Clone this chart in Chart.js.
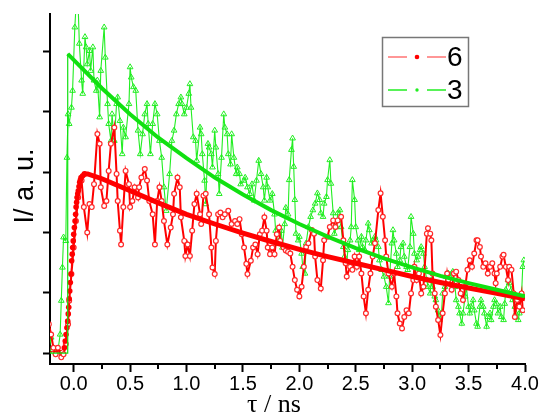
<!DOCTYPE html>
<html>
<head>
<meta charset="utf-8">
<script src="https://cdn.jsdelivr.net/npm/chart.js@4.4.1/dist/chart.umd.min.js"></script>
<style>
  html, body { margin: 0; padding: 0; background: #fff; }
  #wrap { width: 541px; height: 415px; }
</style>
</head>
<body>
<div id="wrap"><canvas id="decayChart" width="541" height="415"></canvas></div>
<script>
// sample 6 (red circles), time in ns / intensity in a.u.
const redT = [-0.22,-0.20,-0.18,-0.16,-0.14,-0.11,-0.09,-0.07,-0.05,-0.04,-0.02,0.00,0.02,0.04,0.07,0.09,0.12,0.14,0.16,0.18,
  0.21,0.23,0.24,0.27,0.29,0.31,0.33,0.36,0.38,0.39,0.41,0.42,0.44,0.46,0.49,0.50,0.52,0.54,0.57,0.58,
  0.60,0.63,0.65,0.67,0.70,0.72,0.74,0.76,0.78,0.80,0.83,0.86,0.88,0.89,0.92,0.94,0.95,0.98,0.99,1.01,
  1.03,1.05,1.07,1.09,1.12,1.13,1.15,1.17,1.20,1.22,1.23,1.25,1.26,1.28,1.30,1.32,1.34,1.37,1.40,1.43,
  1.45,1.47,1.49,1.51,1.53,1.54,1.57,1.59,1.61,1.63,1.65,1.67,1.69,1.71,1.72,1.74,1.76,1.78,1.80,1.82,
  1.83,1.86,1.88,1.90,1.92,1.94,1.96,1.98,2.00,2.02,2.04,2.06,2.08,2.11,2.13,2.14,2.16,2.19,2.21,2.22,
  2.25,2.27,2.30,2.32,2.34,2.37,2.39,2.41,2.42,2.45,2.47,2.49,2.51,2.53,2.55,2.57,2.59,2.61,2.63,2.65,
  2.67,2.70,2.72,2.74,2.76,2.77,2.79,2.82,2.84,2.86,2.87,2.89,2.91,2.93,2.95,2.97,2.99,3.01,3.02,3.04,
  3.06,3.08,3.10,3.13,3.14,3.16,3.17,3.18,3.20,3.21,3.23,3.25,3.27,3.29,3.31,3.32,3.35,3.37,3.39,3.41,
  3.43,3.45,3.47,3.49,3.51,3.53,3.55,3.57,3.58,3.60,3.61,3.63,3.65,3.67,3.69,3.71,3.73,3.74,3.75,3.78,
  3.80,3.81,3.83,3.85,3.86,3.88,3.90,3.91,3.93,3.95,3.97,3.98];
const redI = [0.48,0.31,0.09,-0.02,0.09,-0.07,-0.02,0.15,0.48,0.87,1.31,1.75,2.19,2.58,2.86,2.42,2.00,2.47,2.42,2.80,
  3.63,3.47,2.75,2.44,2.52,3.02,3.47,3.74,2.97,2.52,2.03,1.80,2.42,3.02,2.80,2.42,2.52,2.75,2.58,2.75,
  2.91,3.05,2.86,2.52,2.30,1.80,2.52,2.75,2.52,2.19,1.80,2.08,2.30,2.64,2.91,2.75,2.25,1.86,1.61,1.80,
  1.61,2.03,2.47,2.64,2.30,2.14,2.61,2.64,2.30,1.75,1.42,1.31,1.86,2.30,2.33,2.25,2.30,2.36,2.14,2.19,
  2.14,2.22,1.97,1.75,1.48,1.31,1.53,1.75,1.80,1.64,1.97,2.03,2.25,2.03,1.75,1.64,1.75,1.64,1.97,2.08,
  1.86,1.75,1.70,1.68,1.65,1.43,1.21,1.05,0.94,1.10,1.43,1.76,1.82,2.04,1.98,1.60,1.21,1.07,1.54,1.87,
  1.93,2.09,2.20,2.09,2.20,2.26,1.87,1.49,1.27,1.43,1.38,1.60,1.43,1.60,1.32,0.94,0.66,1.05,1.32,1.60,
  1.82,2.37,2.65,2.26,1.87,1.60,1.32,1.10,1.32,0.94,0.66,0.49,0.41,0.60,0.71,0.66,0.99,1.21,1.43,1.21,
  1.32,0.99,1.10,1.98,2.07,1.98,1.87,1.32,0.99,0.77,0.55,0.30,0.66,0.99,1.32,1.21,1.05,1.32,1.35,1.21,
  0.99,0.88,1.10,1.38,1.54,1.43,1.65,1.87,1.87,1.76,1.60,1.43,1.49,1.32,1.43,1.49,1.32,1.16,1.32,1.43,
  1.60,1.63,1.43,1.21,1.43,1.38,0.99,0.60,0.88,0.77,0.99,0.71];

// sample 3 (green triangles)
const greenT = [-0.22,-0.20,-0.18,-0.16,-0.14,-0.12,-0.11,-0.10,-0.09,-0.07,-0.06,-0.05,-0.04,-0.02,-0.01,0.01,0.02,0.04,0.05,0.07,
  0.08,0.10,0.11,0.12,0.14,0.15,0.17,0.18,0.20,0.21,0.23,0.24,0.27,0.28,0.30,0.31,0.33,0.34,0.36,0.38,
  0.39,0.41,0.43,0.44,0.46,0.49,0.50,0.51,0.53,0.55,0.57,0.59,0.61,0.63,0.65,0.66,0.68,0.70,0.72,0.74,
  0.76,0.78,0.80,0.82,0.85,0.87,0.89,0.91,0.93,0.95,0.96,0.98,1.00,1.02,1.03,1.04,1.06,1.08,1.09,1.12,
  1.13,1.14,1.16,1.17,1.19,1.20,1.22,1.23,1.25,1.26,1.28,1.29,1.31,1.33,1.34,1.36,1.37,1.39,1.40,1.42,
  1.44,1.45,1.47,1.48,1.51,1.52,1.54,1.56,1.58,1.60,1.62,1.64,1.66,1.68,1.69,1.71,1.72,1.74,1.76,1.78,
  1.79,1.81,1.82,1.84,1.85,1.87,1.88,1.90,1.91,1.93,1.94,1.95,1.96,1.97,1.99,2.00,2.02,2.03,2.05,2.06,
  2.08,2.10,2.12,2.14,2.16,2.18,2.19,2.21,2.22,2.24,2.25,2.27,2.28,2.30,2.31,2.33,2.34,2.36,2.37,2.39,
  2.40,2.42,2.43,2.45,2.46,2.47,2.49,2.50,2.52,2.53,2.55,2.56,2.58,2.59,2.61,2.62,2.64,2.65,2.67,2.68,
  2.70,2.71,2.73,2.75,2.77,2.79,2.80,2.82,2.83,2.84,2.86,2.87,2.89,2.90,2.92,2.93,2.95,2.96,2.98,2.99,
  3.01,3.02,3.04,3.05,3.07,3.08,3.10,3.11,3.13,3.14,3.16,3.17,3.18,3.20,3.21,3.23,3.24,3.26,3.27,3.29,
  3.30,3.32,3.33,3.35,3.36,3.38,3.39,3.41,3.42,3.44,3.45,3.47,3.48,3.50,3.51,3.52,3.54,3.55,3.57,3.58,
  3.60,3.61,3.63,3.64,3.66,3.67,3.69,3.70,3.72,3.73,3.75,3.76,3.78,3.79,3.81,3.82,3.83,3.85,3.86,3.88,
  3.89,3.91,3.92,3.94,3.95,3.97,3.98,3.99];
const greenI = [0.04,0.26,0.09,0.01,0.04,0.31,0.87,1.42,1.92,1.86,3.24,3.96,3.80,4.07,4.35,5.40,5.73,5.73,5.13,4.52,
  4.30,5.24,5.07,4.79,5.01,4.68,5.07,4.52,4.35,4.52,3.91,4.68,5.40,4.90,4.13,3.80,3.52,3.96,3.52,4.13,
  4.24,3.85,3.30,3.74,3.58,4.13,4.74,4.57,4.41,4.35,3.69,3.30,3.63,3.96,4.13,3.80,3.30,3.80,4.13,3.96,
  3.52,3.24,2.75,2.36,2.97,3.52,3.69,3.96,4.13,4.24,4.13,3.96,4.07,4.30,4.46,4.07,3.58,3.52,3.19,3.74,
  3.63,3.30,2.86,2.47,3.47,3.41,3.30,3.08,3.69,3.41,2.97,2.64,3.24,3.96,3.74,3.63,3.30,3.13,3.63,3.24,
  2.97,3.08,2.97,2.80,2.86,2.91,2.75,2.64,2.80,2.53,2.86,3.19,2.97,2.75,2.53,2.91,2.75,2.53,2.64,2.30,
  2.03,1.81,1.86,2.03,1.75,2.14,2.41,2.30,2.87,3.37,3.56,3.09,2.54,1.98,1.87,1.93,1.65,1.43,1.32,1.82,
  2.09,2.26,2.37,2.48,2.65,2.54,2.32,2.26,2.48,2.59,2.87,3.20,2.81,2.32,1.98,2.09,2.32,2.37,2.09,1.76,
  1.60,1.49,1.71,1.87,2.09,2.87,2.54,2.09,1.87,1.71,1.93,1.76,1.71,1.87,2.15,2.04,1.82,1.87,1.93,1.87,
  1.76,1.54,1.38,1.27,1.10,0.83,1.27,1.82,2.04,1.87,1.65,1.43,1.54,1.76,1.82,1.60,1.43,1.38,1.76,2.26,
  1.98,1.65,1.54,1.60,1.71,1.76,1.65,1.43,1.21,1.10,0.99,1.21,1.10,0.94,0.88,0.71,0.55,0.66,0.99,1.10,
  1.27,1.32,1.27,1.32,1.35,1.10,0.88,0.77,0.66,0.49,0.66,0.94,1.10,0.77,0.66,0.77,0.88,0.71,0.49,0.44,
  0.77,0.88,0.77,0.66,0.44,0.60,0.66,0.55,0.77,0.88,0.82,0.66,0.77,0.60,0.55,0.82,1.05,1.21,1.16,1.05,
  0.88,0.77,0.66,0.55,0.66,0.99,1.43,1.54];

// fitted curves
const redFitT = [-0.21,-0.15,-0.10,-0.083,-0.075,-0.068,-0.06,-0.053,-0.048,-0.044,-0.04,-0.035,-0.03,-0.024,-0.018,-0.013,-0.009,-0.004,0.0,0.006,
  0.012,0.017,0.021,0.026,0.03,0.036,0.041,0.047,0.053,0.059,0.065,0.08,0.095,0.11,0.124,
  0.25,0.5,0.75,1.0,1.25,1.5,1.75,2.0,2.25,2.5,2.75,3.0,3.25,3.5,3.75,4.0];
const redFitI = [0.02,0.03,0.05,0.09,0.20,0.31,0.42,0.53,0.65,0.76,0.90,1.03,1.17,1.31,1.53,1.64,1.75,1.86,1.97,2.08,
  2.19,2.30,2.42,2.50,2.58,2.64,2.69,2.76,2.83,2.87,2.91,2.94,2.97,2.97,2.97,
  2.89,2.69,2.49,2.30,2.14,1.99,1.85,1.72,1.60,1.49,1.38,1.27,1.17,1.08,0.99,0.90];
const greenFitT = [-0.21,-0.056,-0.053,0.0,0.25,0.5,0.75,1.0,1.25,1.5,1.75,2.0,2.25,2.5,2.75,3.0,3.25,3.5,3.75,4.0];
const greenFitI = [0.0,0.0,4.96,4.86,4.39,3.96,3.57,3.23,2.91,2.63,2.37,2.14,1.93,1.74,1.57,1.42,1.28,1.16,1.05,0.94];

// axes
const majorTicks = [0.0, 0.5, 1.0, 1.5, 2.0, 2.5, 3.0, 3.5, 4.0];
const minorTicks = [0.25, 0.75, 1.25, 1.75, 2.25, 2.75, 3.25, 3.75];
const yTicks = [0, 1, 2, 3, 4, 5];
const legendLabels = ['6', '3'];

const RED = '#ff0000';
const GREEN = '#22ee22';

function pairs(xs, ys) {
    return xs.map((x, i) => ({ x: x, y: ys[i] }));
}

// minor ticks, axis titles and the boxed legend
const extras = {
    id: 'extras',
    afterDraw(chart) {
        const ctx = chart.ctx;
        const xs = chart.scales.x;
        const area = chart.chartArea;
        ctx.save();
        ctx.strokeStyle = '#000';
        ctx.lineWidth = 2;
        minorTicks.forEach(v => {
            const px = Math.round(xs.getPixelForValue(v));
            ctx.beginPath();
            ctx.moveTo(px, area.bottom);
            ctx.lineTo(px, area.bottom + 5);
            ctx.stroke();
        });

        ctx.fillStyle = '#000';
        ctx.textAlign = 'center';
        ctx.textBaseline = 'alphabetic';
        ctx.font = '26px "Liberation Serif", serif';
        ctx.fillText('τ / ns', 274, 412);

        ctx.save();
        ctx.translate(26, 186);
        ctx.rotate(-Math.PI / 2);
        ctx.textBaseline = 'middle';
        ctx.font = '27px "Liberation Sans", Arial, sans-serif';
        ctx.fillText('I/ a. u.', 0, 0);
        ctx.restore();

        // legend
        ctx.strokeStyle = '#777';
        ctx.lineWidth = 1.5;
        ctx.strokeRect(382.5, 37.5, 86, 69);
        const rows = [
            { y: 57, line: 'rgba(255,90,90,0.85)', dot: RED, r: 2.3 },
            { y: 90, line: GREEN, dot: GREEN, r: 1.7 }
        ];
        rows.forEach((row, i) => {
            ctx.strokeStyle = row.line;
            ctx.lineWidth = 1.5;
            ctx.beginPath();
            ctx.moveTo(388, row.y); ctx.lineTo(407, row.y);
            ctx.moveTo(427, row.y); ctx.lineTo(446, row.y);
            ctx.stroke();
            ctx.fillStyle = row.dot;
            ctx.beginPath();
            ctx.arc(417, row.y, row.r, 0, Math.PI * 2);
            ctx.fill();
            ctx.fillStyle = '#000';
            ctx.textAlign = 'left';
            ctx.textBaseline = 'middle';
            ctx.font = '28px "Liberation Sans", Arial, sans-serif';
            ctx.fillText(legendLabels[i], 447, row.y + 1);
        });
        ctx.restore();
    }
};

const ctx = document.getElementById('decayChart').getContext('2d');
new Chart(ctx, {
    type: 'line',
    data: {
        datasets: [
            {
                label: '3 fit',
                data: pairs(greenFitT, greenFitI),
                borderColor: '#11e011',
                borderWidth: 4,
                pointRadius: 0,
                segment: { borderWidth: c => (c.p0.parsed.y < 0.5 ? 1.2 : 4) },
                order: 1
            },
            {
                label: '6 fit',
                data: pairs(redFitT, redFitI),
                borderColor: RED,
                borderWidth: 5,
                pointRadius: c => (c.parsed && c.parsed.x < 0.1 && c.parsed.x > -0.09 ? 2.8 : 0),
                pointBackgroundColor: RED,
                pointBorderWidth: 0,
                segment: { borderWidth: c => (c.p1.parsed.x < 0.1 ? 1 : 5) },
                order: 2
            },
            {
                label: legendLabels[0],
                data: pairs(redT, redI),
                borderColor: RED,
                borderWidth: 2,
                pointStyle: 'circle',
                pointRadius: 2.4,
                pointBorderWidth: 1.2,
                pointBackgroundColor: '#fff',
                pointBorderColor: '#ff2a2a',
                order: 3
            },
            {
                label: legendLabels[1],
                data: pairs(greenT, greenI),
                borderColor: GREEN,
                borderWidth: 1.1,
                pointStyle: 'triangle',
                pointRadius: 3.3,
                pointBorderWidth: 1,
                pointBackgroundColor: 'rgba(255,255,255,0)',
                pointBorderColor: GREEN,
                order: 4
            }
        ]
    },
    options: {
        responsive: false,
        animation: false,
        devicePixelRatio: 1,
        layout: { padding: { top: 14, right: 16, left: 0, bottom: 0 } },
        elements: { line: { tension: 0 } },
        plugins: {
            legend: { display: false },
            tooltip: { enabled: false }
        },
        scales: {
            x: {
                type: 'linear',
                min: -0.21,
                max: 4.0,
                afterBuildTicks: s => { s.ticks = majorTicks.map(v => ({ value: v })); },
                afterFit: s => { s.height = 51; },
                grid: { display: true, drawOnChartArea: false, drawTicks: true, tickLength: 8, tickWidth: 2, tickColor: '#000' },
                border: { display: true, color: '#000', width: 2 },
                ticks: {
                    color: '#000',
                    font: { family: '"Liberation Sans", Arial, sans-serif', size: 20 },
                    padding: 0,
                    maxRotation: 0,
                    autoSkip: false,
                    callback: v => Number(v).toFixed(1)
                }
            },
            y: {
                min: -0.18,
                max: 5.62,
                afterBuildTicks: s => { s.ticks = yTicks.map(v => ({ value: v })); },
                afterFit: s => { s.width = 50; },
                grid: { display: true, drawOnChartArea: false, drawTicks: true, tickLength: 7, tickWidth: 2, tickColor: '#000' },
                border: { display: true, color: '#000', width: 2 },
                ticks: { callback: () => '' }
            }
        }
    },
    plugins: [extras]
});
</script>
</body>
</html>
